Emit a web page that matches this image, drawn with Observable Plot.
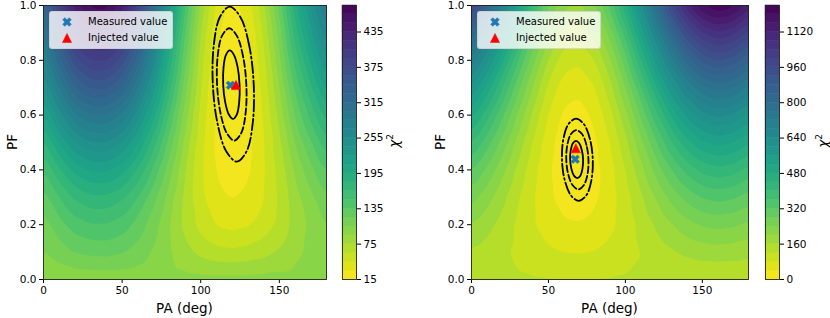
<!DOCTYPE html>
<html><head><meta charset="utf-8">
<script src="https://cdn.jsdelivr.net/npm/d3@7"></script>
<script src="https://cdn.jsdelivr.net/npm/@observablehq/plot@0.6"></script>
<style>
body{margin:0;background:#fff;}
#fig{position:relative;width:830px;height:318px;font-family:"DejaVu Sans",sans-serif;color:#000;overflow:hidden;background:#fff}
.slot{position:absolute;top:0}
.slot svg{display:block;overflow:visible}
.lbl{position:absolute;font-size:13.5px;white-space:nowrap;line-height:1;transform:translate(-50%,-50%)}
.rot{transform:translate(-50%,-50%) rotate(-90deg)}
.legend{position:absolute;height:38px;background:rgba(255,255,255,0.8);border:1px solid rgba(204,204,204,0.8);border-radius:3px;box-sizing:border-box;font-size:10px}
.legend .row{position:absolute;left:0;height:14px;line-height:14px;white-space:nowrap}
.legend svg{position:absolute;left:12px;top:2px}
.legend span{position:absolute;left:38px;top:0}
</style></head>
<body><div id="fig"></div>
<script>
// ---------- data ----------
const PA_GRID = [0,10,20,30,40,50,60,70,80,90,100,110,120,130,140,150,160,170,180];
const PF_GRID = [0,0.1,0.2,0.3,0.4,0.5,0.6,0.7,0.8,0.9,1.0];

// chi^2 map, left panel (rows PF 0 -> 1, columns PA 0 -> 180)
const LEFT_CHI2 = [
 [95,95,95,95,95,95,95,95,95,95,95,95,95,95,95,95,95,95,95],
 [104,113,121,124,125,121,113,103,92,81,71,65,63,65,69,77,86,93,100],
 [113,129,143,149,149,143,129,111,91,71,55,44,40,43,51,64,81,93,106],
 [128,150,168,177,177,168,150,125,98,71,49,34,29,33,44,62,84,101,118],
 [150,178,201,212,213,201,178,146,111,76,48,29,22,27,42,65,93,115,137],
 [176,211,240,254,255,240,211,172,128,85,50,26,18,24,43,71,106,133,161],
 [206,248,283,299,300,283,248,201,148,97,54,26,16,24,46,80,122,155,188],
 [238,286,328,347,348,328,287,232,170,110,60,27,15,24,50,89,139,177,216],
 [267,322,369,390,392,369,323,261,191,123,66,29,16,26,55,100,156,199,243],
 [295,355,406,430,432,406,356,288,211,136,74,33,19,30,62,111,173,220,268],
 [324,389,444,470,472,444,389,316,233,152,85,40,25,37,71,125,191,243,294]
];
// chi^2 map, right panel
const RIGHT_CHI2 = [
 [123,123,123,123,123,123,123,123,123,123,123,123,123,123,123,123,123,123,123],
 [155,142,127,112,98,86,79,77,81,90,104,120,138,154,168,177,181,178,171],
 [200,173,144,112,84,60,45,42,50,69,97,130,165,197,225,244,252,247,231],
 [256,216,172,125,83,47,25,20,32,61,102,151,203,252,294,322,334,326,303],
 [323,271,212,149,93,45,15,9,26,63,118,184,254,319,374,412,428,418,386],
 [403,338,264,186,115,55,18,10,31,78,146,228,316,398,466,513,534,521,482],
 [495,416,328,234,149,76,32,24,48,104,186,285,390,488,571,627,651,636,589],
 [598,506,404,294,195,110,59,49,77,143,239,353,476,590,686,752,780,763,708],
 [714,609,491,366,253,156,98,86,118,193,303,434,574,705,815,890,922,902,839],
 [841,723,591,450,322,214,148,135,171,256,379,526,684,831,955,1039,1075,1052,982],
 [980,849,703,546,404,284,211,196,236,330,467,631,806,970,1107,1201,1236,1216,1137]
];

// confidence contours (points traced on the picture: [PA, PF])
const LEFT_SIGMA1 = [[124.7,0.711],[123.5,0.774],[121.2,0.819],[118.5,0.836],[116.0,0.819],[114.5,0.774],[114.3,0.711],[115.5,0.649],[117.8,0.603],[120.5,0.586],[123.0,0.603],[124.5,0.649]];
const LEFT_SIGMA2 = [[129.0,0.712],[126.9,0.815],[122.9,0.890],[118.1,0.917],[113.6,0.890],[110.8,0.815],[110.4,0.712],[112.5,0.610],[116.5,0.535],[121.3,0.507],[125.8,0.535],[128.6,0.610]];
const LEFT_SIGMA3 = [[133.7,0.713],[130.8,0.855],[125.2,0.958],[118.4,0.996],[112.2,0.958],[108.3,0.855],[107.7,0.713],[110.6,0.572],[116.2,0.468],[123.0,0.430],[129.2,0.468],[133.1,0.572]];
const RIGHT_SIGMA1 = [[72.5,0.438],[71.7,0.472],[70.0,0.497],[67.9,0.506],[65.85,0.497],[64.5,0.472],[64.1,0.438],[64.9,0.404],[66.55,0.379],[68.7,0.370],[70.75,0.379],[72.1,0.404]];
const RIGHT_SIGMA2 = [[76.0,0.437],[74.7,0.491],[71.8,0.531],[68.15,0.545],[64.65,0.531],[62.25,0.491],[61.6,0.437],[62.9,0.383],[65.75,0.344],[69.45,0.329],[72.95,0.344],[75.35,0.383]];
const RIGHT_SIGMA3 = [[78.8,0.437],[77.0,0.512],[73.0,0.567],[67.9,0.587],[63.0,0.567],[59.7,0.512],[58.8,0.437],[60.6,0.362],[64.6,0.307],[69.7,0.287],[74.6,0.307],[77.9,0.362]];

const LEFT_MEASURED = [{pa:118.9, pf:0.709}];
const LEFT_INJECTED = [{pa:122.4, pf:0.710}];
const RIGHT_MEASURED = [{pa:67.4, pf:0.439}];
const RIGHT_INJECTED = [{pa:67.8, pf:0.479}];

const PA_TICKS = [0,50,100,150];
const PF_TICKS = [0,0.2,0.4,0.6,0.8,1.0];
const LEFT_CB_TICKS = [15,75,135,195,255,315,375,435];
const RIGHT_CB_TICKS = [0,160,320,480,640,800,960,1120];
const LEFT_LEVEL = {start:15, stop:480, step:15};
const RIGHT_LEVEL = {start:0, stop:1240, step:40};
const LEGEND_LABELS = ["Measured value","Injected value"];

// ---------- drawing ----------
const FONT = "DejaVu Sans, sans-serif";
const fig = document.getElementById("fig");

const PLUS = [[-1,-3],[1,-3],[1,-1],[3,-1],[3,1],[1,1],[1,3],[-1,3],[-1,1],[-3,1],[-3,-1],[-1,-1]];
const symbolX = {draw(ctx, size){
  const r = Math.sqrt(size/Math.PI), u = r/3, c = Math.SQRT1_2;
  PLUS.forEach(([a,b],i)=>{const x=(a-b)*c*u, y=(a+b)*c*u; i?ctx.lineTo(x,y):ctx.moveTo(x,y);});
  ctx.closePath();
}};
const symbolTri = {draw(ctx, size){
  const r = Math.sqrt(size/Math.PI);
  ctx.moveTo(0,-r); ctx.lineTo(-r,r); ctx.lineTo(r,r); ctx.closePath();
}};

function gridData(rows){
  const out = [];
  PF_GRID.forEach((pf,i)=>PA_GRID.forEach((pa,j)=>out.push({pa, pf, chi2: rows[i][j]})));
  return out;
}
function colorScale(lv){
  return {type:"linear", scheme:"viridis", reverse:true, clamp:true,
          domain:[lv.start - lv.step/2, lv.stop - lv.step/2]};
}
function levels(lv){ return d3.range(lv.start, lv.stop, lv.step); }

function place(node, left){
  const d = document.createElement("div");
  d.className = "slot"; d.style.left = left + "px";
  d.appendChild(node); fig.appendChild(d);
}
function label(text, x, y, rot, html){
  const d = document.createElement("div");
  d.className = "lbl" + (rot ? " rot" : "");
  d.style.left = x + "px"; d.style.top = y + "px";
  if (html) d.innerHTML = text; else d.textContent = text;
  fig.appendChild(d);
}

function panel(opt){
  const th = levels(opt.lv); th[0] = opt.lv.start - 0.001;
  const line = (pts, dash) => Plot.line(pts, {x: d=>d[0], y: d=>d[1], curve:"catmull-rom-closed",
      stroke:"black", strokeWidth:1.8, strokeDasharray: dash});
  return Plot.plot({
    width: opt.width, height: 318,
    marginLeft: 43, marginRight: opt.width - 43 - opt.plotW, marginTop: 5, marginBottom: 39,
    style: {fontFamily: FONT, fontSize: "10.5px", color: "#000", background: "transparent"},
    x: {domain:[0,180], ticks: PA_TICKS, tickSize: 4, tickPadding: 3, label: null},
    y: {domain:[0,1], ticks: PF_TICKS, tickFormat: d3.format(".1f"), tickSize: 4, tickPadding: 3, label: null},
    color: colorScale(opt.lv),
    marks: [
      Plot.contour(gridData(opt.rows), {x:"pa", y:"pf", fill:"chi2", thresholds: th,
        interpolate:"barycentric", pixelSize: 1, blur: 3, stroke:"none"}),
      line(opt.s1, null),
      line(opt.s2, "6.7,2.9"),
      line(opt.s3, "11.5,2.9,1.8,2.9"),
      Plot.dot(opt.measured, {x:"pa", y:"pf", symbol: symbolX, r: 4.6, fill:"#1f77b4", stroke:"#1f77b4", strokeWidth:0.5}),
      Plot.dot(opt.injected, {x:"pa", y:"pf", symbol: symbolTri, r: 4.6, fill:"#ff0000", stroke:"#ff0000", strokeWidth:0.5}),
      Plot.frame({stroke:"#222", strokeWidth:0.9})
    ]
  });
}

function colorbar(lv, ticks, width){
  return Plot.plot({
    width, height: 318, marginLeft: 7, marginRight: width - 7 - 14, marginTop: 5, marginBottom: 39,
    style: {fontFamily: FONT, fontSize: "10.5px", color: "#000", background: "transparent"},
    x: {axis: null},
    y: {domain:[lv.start, lv.stop], ticks, tickFormat: d => String(d), tickSize: 4, tickPadding: 3, axis: "right", label: null},
    color: colorScale(lv),
    marks: [
      Plot.rect(levels(lv), {y1: d=>d, y2: d=>d + lv.step, fill: d=>d, stroke: d=>d, strokeWidth: 0.5}),
      Plot.frame({stroke:"#222", strokeWidth:0.9})
    ]
  });
}

function legend(left){
  const d = document.createElement("div");
  d.className = "legend"; d.style.left = left + "px"; d.style.top = "11px"; d.style.width = "124px";
  const sym = [symbolX, symbolTri], col = ["#1f77b4", "#ff0000"];
  LEGEND_LABELS.forEach((t,i)=>{
    const row = document.createElement("div");
    row.className = "row"; row.style.top = (3 + i*16) + "px"; row.style.width = "100%";
    const p = d3.path(); sym[i].draw(p, Math.PI*4.6*4.6);
    row.innerHTML = `<svg width="10" height="10" viewBox="-5 -5 10 10"><path d="${p.toString()}" fill="${col[i]}" stroke="${col[i]}" stroke-width="0.5"/></svg><span>${t}</span>`;
    d.appendChild(row);
  });
  fig.appendChild(d);
}

place(panel({width:330, plotW:283, rows: LEFT_CHI2, lv: LEFT_LEVEL, s1: LEFT_SIGMA1, s2: LEFT_SIGMA2, s3: LEFT_SIGMA3,
             measured: LEFT_MEASURED, injected: LEFT_INJECTED}), 0);
place(colorbar(LEFT_LEVEL, LEFT_CB_TICKS, 70), 335);
place(panel({width:325, plotW:277, rows: RIGHT_CHI2, lv: RIGHT_LEVEL, s1: RIGHT_SIGMA1, s2: RIGHT_SIGMA2, s3: RIGHT_SIGMA3,
             measured: RIGHT_MEASURED, injected: RIGHT_INJECTED}), 428);
place(colorbar(RIGHT_LEVEL, RIGHT_CB_TICKS, 72), 758);

legend(49);
legend(477);

label("PA (deg)", 184.5, 309, false);
label("PA (deg)", 609.5, 309, false);
label("PF", 13, 142, true);
label("PF", 441, 142, true);
const chi = '<i>χ</i><sup style="font-size:9px;vertical-align:6px">2</sup>';
label(chi, 394, 141, true, true);
label(chi, 823, 141, true, true);
</script></body></html>
